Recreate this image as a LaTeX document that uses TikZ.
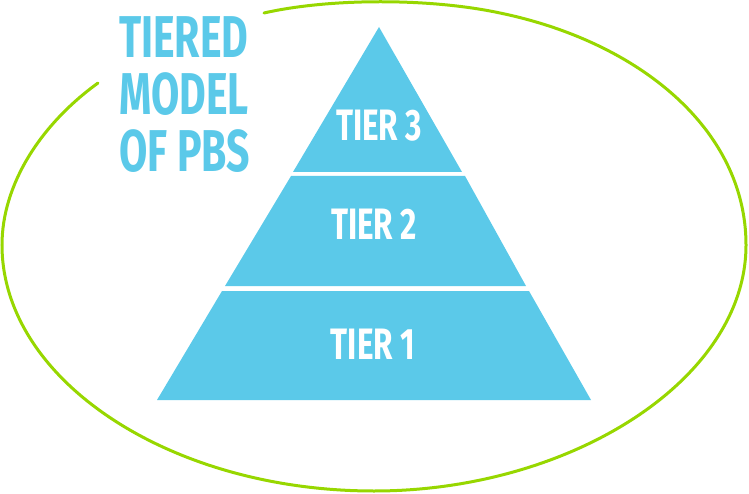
\documentclass[tikz,border=0pt]{standalone}
\usepackage{fontspec}
\setmainfont{Fira Sans}
\definecolor{tierblue}{HTML}{5BC9E9}
\definecolor{ringgreen}{HTML}{97D700}
\tikzset{x=1pt,y=-1pt,
 tierface/.style={fill=tierblue,draw=none},
 tierlabel/.style={text=white,font=\fontsize{44}{44}\selectfont\bfseries,inner sep=0pt,anchor=base},
 titlelabel/.style={text=tierblue,font=\fontsize{59}{59}\selectfont\bfseries,inner sep=0pt,anchor=base west},
 ring/.style={draw=ringgreen,line width=3pt,line cap=round}}
\begin{document}
\begin{tikzpicture}
\useasboundingbox (0,0) rectangle (749,494);
\draw[ring] (264,13) .. controls (330,-2) and (430,-2) .. (500,13)
 .. controls (640,42) and (746,130) .. (746,245)
 .. controls (746,380) and (570,491) .. (374,491)
 .. controls (170,491) and (2,380) .. (2,245)
 .. controls (2,185) and (40,125) .. (98,83);
\fill[tierface] (379,27) -- (462,172) -- (293,172) -- cycle;
\fill[tierface] (291,176) -- (465,176) -- (526,286) -- (225,286) -- cycle;
\fill[tierface] (222,291) -- (529,291) -- (591,400) -- (157,400) -- cycle;
\node[tierlabel] (t3) at (379,141) {\scalebox{.715}[1]{TIER 3}};
\node[tierlabel] (t2) at (374,240) {\scalebox{.715}[1]{TIER 2}};
\node[tierlabel] (t1) at (373,359) {\scalebox{.715}[1]{TIER 1}};
\node[titlelabel] (a) at (119,58) {\scalebox{.695}[1]{TIERED}};
\node[titlelabel] (b) at (119,115) {\scalebox{.695}[1]{MODEL}};
\node[titlelabel] (c) at (119,172) {\scalebox{.695}[1]{OF PBS}};
\end{tikzpicture}
\end{document}
